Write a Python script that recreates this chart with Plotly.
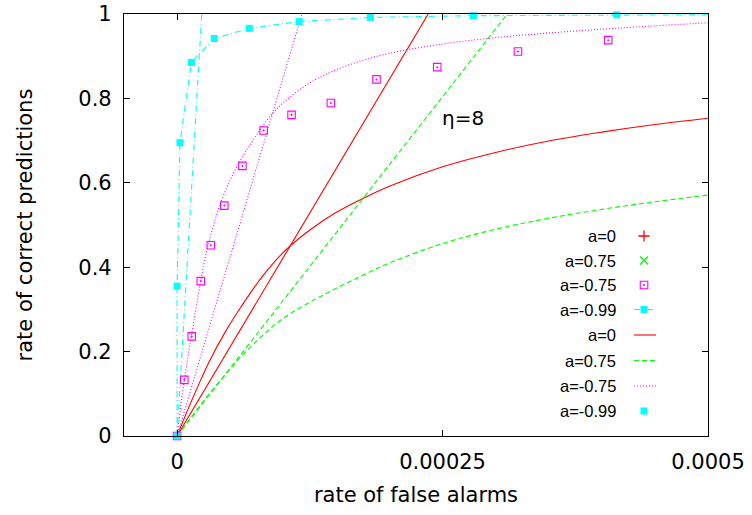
import plotly.graph_objects as go

# ---------------- data ----------------
# straight lines through the origin
red_line_x = [0, 2.365e-4]
red_line_y = [0, 1.0]
green_line_x = [0, 3.11e-4]
green_line_y = [0, 1.0]
magenta_line_x = [0, 1.176e-4]
magenta_line_y = [0, 1.0]
cyan_line_x = [0, 2.32e-5]
cyan_line_y = [0, 1.0]

# curves
red_curve_x = [0, 1e-5, 2e-5, 3e-5, 4.5e-5, 6e-5, 8e-5, 1e-4, 1.25e-4, 1.5e-4, 1.75e-4,
               2e-4, 2.5e-4, 3e-4, 3.5e-4, 4e-4, 4.5e-4, 5e-4]
red_curve_y = [0, 0.062, 0.120, 0.175, 0.245, 0.305, 0.377, 0.435, 0.488, 0.530, 0.563,
               0.592, 0.638, 0.672, 0.699, 0.720, 0.738, 0.753]

green_curve_x = [0, 1e-5, 2e-5, 3e-5, 4.5e-5, 6e-5, 8e-5, 1e-4, 1.25e-4, 1.5e-4, 1.75e-4,
                 2e-4, 2.5e-4, 3e-4, 3.5e-4, 4e-4, 4.5e-4, 5e-4]
green_curve_y = [0, 0.034, 0.067, 0.099, 0.144, 0.187, 0.237, 0.279, 0.317, 0.350, 0.381,
                 0.410, 0.456, 0.490, 0.516, 0.537, 0.555, 0.571]

magenta_curve_x = [0, 5e-6, 1e-5, 1.5e-5, 2e-5, 2.5e-5, 3e-5, 3.5e-5, 4e-5, 5e-5, 6e-5, 7e-5,
                   8e-5, 9e-5, 1e-4, 1.25e-4, 1.5e-4, 1.75e-4, 2e-4, 2.5e-4, 3e-4, 3.5e-4,
                   4e-4, 4.5e-4, 5e-4]
magenta_curve_y = [0, 0.100, 0.185, 0.260, 0.335, 0.405, 0.460, 0.505, 0.545, 0.607, 0.655, 0.695,
                   0.732, 0.765, 0.790, 0.837, 0.868, 0.890, 0.907, 0.929, 0.944, 0.955,
                   0.964, 0.972, 0.979]

# point series
magenta_pts_x = [0, 6.8e-6, 1.38e-5, 2.23e-5, 3.17e-5, 4.45e-5, 6.15e-5, 8.15e-5, 1.078e-4,
                 1.448e-4, 1.878e-4, 2.45e-4, 3.21e-4, 4.06e-4]
magenta_pts_y = [0, 0.133, 0.236, 0.367, 0.452, 0.546, 0.640, 0.724, 0.761,
                 0.789, 0.845, 0.874, 0.911, 0.938]

cyan_pts_x = [0, 0, 2.7e-6, 1.35e-5, 3.5e-5, 6.8e-5, 1.15e-4, 1.82e-4, 2.79e-4, 4.14e-4, 6.0e-4]
cyan_pts_y = [0, 0.355, 0.695, 0.885, 0.942, 0.966, 0.982, 0.992, 0.996, 0.998, 0.999]

# axes
x_ticks = [0, 0.00025, 0.0005]
x_tick_labels = ["0", "0.00025", "0.0005"]
y_ticks = [0, 0.2, 0.4, 0.6, 0.8, 1.0]
y_tick_labels = ["0", "0.2", "0.4", "0.6", "0.8", "1"]

legend_labels = ["a=0", "a=0.75", "a=-0.75", "a=-0.99", "a=0", "a=0.75", "a=-0.75", "a=-0.99"]

# ---------------- styles ----------------
RED = "#ff0000"
GREEN = "#00ff00"
MAGENTA = "#ff00ff"
CYAN = "#00ffff"
DASH = "5px,3px"
DOT = "1px,2px"
DASHDOT = "6px,3px,1px,3px"
LW = 1.1
BIG = dict(family="DejaVu Sans", size=21, color="black")
SMALL = dict(family="Liberation Sans, Arial", size=16.5, color="black")

fig = go.Figure()

def add_line(x, y, color, dash):
    fig.add_trace(go.Scatter(x=x, y=y, mode="lines",
                             line=dict(color=color, width=LW, dash=dash, shape="spline", smoothing=1.0),
                             hoverinfo="skip", showlegend=False))

add_line(red_line_x, red_line_y, RED, "solid")
add_line(red_curve_x, red_curve_y, RED, "solid")
add_line(green_line_x, green_line_y, GREEN, DASH)
add_line(green_curve_x, green_curve_y, GREEN, DASH)
add_line(magenta_line_x, magenta_line_y, MAGENTA, DOT)
add_line(magenta_curve_x, magenta_curve_y, MAGENTA, DOT)
add_line(cyan_line_x, cyan_line_y, CYAN, DASHDOT)

# cyan linespoints: line (clipped) + markers
fig.add_trace(go.Scatter(x=cyan_pts_x, y=cyan_pts_y, mode="lines",
                         line=dict(color=CYAN, width=LW, dash=DASHDOT),
                         hoverinfo="skip", showlegend=False))
fig.add_trace(go.Scatter(x=magenta_pts_x, y=magenta_pts_y, mode="markers",
                         marker=dict(symbol="square-open-dot", size=7.5, color=MAGENTA,
                                     line=dict(color=MAGENTA, width=1.1)),
                         cliponaxis=False, hoverinfo="skip", showlegend=False))
fig.add_trace(go.Scatter(x=cyan_pts_x[:-1], y=cyan_pts_y[:-1], mode="markers",
                         marker=dict(symbol="square", size=7, color=CYAN),
                         cliponaxis=False, hoverinfo="skip", showlegend=False))

# ---------------- gnuplot-style key (text right, sample right of it) ----------------
# overlay axes in pixel units of the page for key samples
key_rows_px = [236, 260.5, 285, 309.5, 335, 360.5, 386, 411]
key_text_right_px = 618
key_sym_px = 644
key_line_px = [634, 656]

samples = [
    dict(kind="marker", symbol="cross-thin", color=RED),
    dict(kind="marker", symbol="x-thin", color=GREEN),
    dict(kind="marker", symbol="square-open-dot", color=MAGENTA),
    dict(kind="both", symbol="square", color=CYAN, dash=DASHDOT),
    dict(kind="line", color=RED, dash="solid"),
    dict(kind="line", color=GREEN, dash=DASH),
    dict(kind="line", color=MAGENTA, dash=DOT),
    dict(kind="marker", symbol="square", color=CYAN),
]
for row, s, lab in zip(key_rows_px, samples, legend_labels):
    if s["kind"] in ("line", "both"):
        fig.add_trace(go.Scatter(x=key_line_px, y=[row, row], mode="lines", xaxis="x2", yaxis="y2",
                                 line=dict(color=s["color"], width=LW, dash=s["dash"]),
                                 hoverinfo="skip", showlegend=False, cliponaxis=False))
    if s["kind"] in ("marker", "both"):
        sym = s["symbol"]
        if sym in ("cross-thin", "x-thin"):
            mk = dict(symbol=sym, size=8, color=s["color"], line=dict(color=s["color"], width=1.3))
        elif sym == "square-open-dot":
            mk = dict(symbol=sym, size=7.5, color=s["color"], line=dict(color=s["color"], width=1.1))
        else:
            mk = dict(symbol=sym, size=7, color=s["color"])
        fig.add_trace(go.Scatter(x=[key_sym_px], y=[row], mode="markers", xaxis="x2", yaxis="y2",
                                 marker=mk, hoverinfo="skip", showlegend=False, cliponaxis=False))
    fig.add_annotation(x=key_text_right_px, y=row, xref="x2", yref="y2", text=lab,
                       showarrow=False, xanchor="right", yanchor="middle", font=SMALL)

fig.add_annotation(x=2.69e-4, y=0.754, xref="x", yref="y", text="η=8", showarrow=False,
                   xanchor="center", yanchor="middle", font=dict(family="DejaVu Sans", size=20, color="black"))

fig.update_layout(
    width=752, height=515,
    margin=dict(l=124, r=44, t=14, b=79),
    paper_bgcolor="white", plot_bgcolor="white",
    showlegend=False,
    xaxis=dict(range=[-0.00005, 0.0005], tickvals=x_ticks, ticktext=x_tick_labels,
               ticks="inside", ticklen=6, tickcolor="black", showline=True, linecolor="black",
               linewidth=1.2, mirror="ticks", showgrid=False, zeroline=False, automargin=False,
               tickfont=BIG, ticklabelstandoff=7,
               title=dict(text="rate of false alarms", font=BIG, standoff=14)),
    yaxis=dict(range=[0, 1], tickvals=y_ticks, ticktext=y_tick_labels,
               ticks="inside", ticklen=6, tickcolor="black", showline=True, linecolor="black",
               linewidth=1.2, mirror="ticks", showgrid=False, zeroline=False, automargin=False,
               tickfont=BIG, ticklabelstandoff=7,
               title=dict(text="rate of correct predictions", font=BIG, standoff=39)),
    xaxis2=dict(range=[124, 708], overlaying="x", visible=False, fixedrange=True),
    yaxis2=dict(range=[436, 14], overlaying="y", visible=False, fixedrange=True),
)

fig.write_html("out.html")
